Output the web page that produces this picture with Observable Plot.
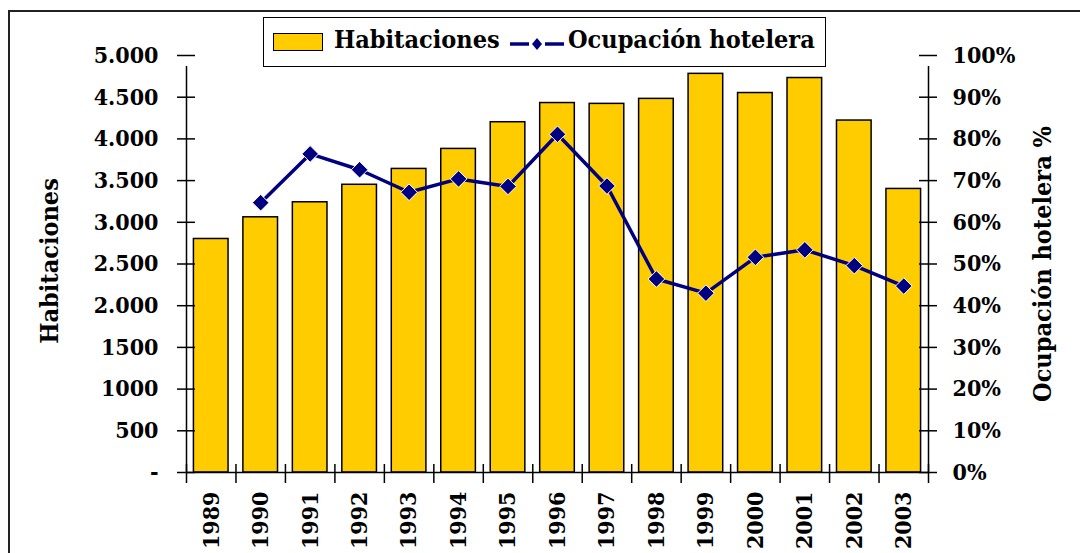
<!DOCTYPE html>
<html>
<head>
<meta charset="utf-8">
<script src="https://cdn.jsdelivr.net/npm/d3@7"></script>
<script src="https://cdn.jsdelivr.net/npm/@observablehq/plot@0.6"></script>
<style>
  body { margin: 0; background: #fff; }
  #wrap { position: relative; width: 1080px; height: 553px; overflow: hidden; background: #fff;
          font-family: "DejaVu Serif Condensed", "Liberation Serif", serif; font-weight: bold; color: #000; }
  #frame { position: absolute; left: 8px; top: 10px; width: 1200px; height: 700px;
           border-left: 2px solid #222; border-top: 2px solid #222; }
  #chart { position: absolute; left: 0; top: 0; }
  #legend { position: absolute; left: 263px; top: 17px; width: 563px; height: 50px; box-sizing: border-box;
            border: 1.5px solid #000; background: #fff; }
  #legend .sw { position: absolute; left: 9px; top: 15px; width: 50px; height: 18px; box-sizing: border-box;
                background: #FFCC00; border: 1.5px solid #000; }
  #legend .t { position: absolute; top: 6px; font-size: 25px; line-height: 32px; white-space: nowrap; }
  #legend svg { position: absolute; left: 245px; top: 16px; }
</style>
</head>
<body>
<div id="wrap">
  <div id="frame"></div>
  <div id="chart"></div>
  <div id="legend">
    <div class="sw"></div>
    <div class="t" style="left:70px">Habitaciones</div>
    <svg width="56" height="20"><line x1="1" y1="10" x2="20" y2="10" stroke="#000080" stroke-width="3.5"/><line x1="36" y1="10" x2="55" y2="10" stroke="#000080" stroke-width="3.5"/><path d="M28,4 L33,10 L28,16 L23,10 Z" fill="#000080"/></svg>
    <div class="t" style="left:304px">Ocupación hotelera</div>
  </div>
</div>
<script>
// ---- data ----
const years = [1989, 1990, 1991, 1992, 1993, 1994, 1995, 1996, 1997, 1998, 1999, 2000, 2001, 2002, 2003];
const habitaciones = [2800, 3060, 3240, 3450, 3640, 3880, 4200, 4430, 4420, 4480, 4780, 4550, 4730, 4220, 3400];
const ocupacion = [null, 64.7, 76.4, 72.6, 67.2, 70.4, 68.6, 81.1, 68.7, 46.4, 43.0, 51.6, 53.4, 49.6, 44.7];
const leftTicks = [0, 500, 1000, 1500, 2000, 2500, 3000, 3500, 4000, 4500, 5000];
const leftLabels = ["-", "500", "1000", "1500", "2.000", "2.500", "3.000", "3.500", "4.000", "4.500", "5.000"];
const rightTicks = [0, 10, 20, 30, 40, 50, 60, 70, 80, 90, 100];
const rightLabels = ["0%", "10%", "20%", "30%", "40%", "50%", "60%", "70%", "80%", "90%", "100%"];

// ---- layout ----
const W = 1080, H = 553, mL = 186, mR = 152, mT = 55, mB = 81;
const plotW = W - mL - mR, plotH = H - mT - mB;
const yMax = 5000, pctMax = 100, k = yMax / pctMax; // secondary axis mapping

const bars = years.map((year, i) => ({year, hab: habitaciones[i]}));
const line = years.map((year, i) => ({year, pct: ocupacion[i]})).filter(d => d.pct != null);
const bounds = [years[0] - 0.5, ...years.map(y => y + 0.5)];
const rightPos = rightTicks.map(p => p * k);
const font = '"DejaVu Serif Condensed", "Liberation Serif", serif';

const chart = Plot.plot({
  width: W, height: H,
  marginLeft: mL, marginRight: mR, marginTop: mT, marginBottom: mB,
  style: {fontFamily: font, fontWeight: "bold", fontSize: "23px", color: "#000", background: "transparent", overflow: "visible"},
  x: {domain: [years[0] - 0.5, years[years.length - 1] + 0.5]},
  y: {domain: [0, yMax]},
  marks: [
    Plot.rectY(bars, {x1: d => d.year - 0.35, x2: d => d.year + 0.35, y: "hab", fill: "#FFCC00", stroke: "#000", strokeWidth: 1.5}),
    Plot.ruleX([bounds[0], bounds[bounds.length - 1]], {y1: 0, y2: yMax, stroke: "#000", strokeWidth: 1.5, insetBottom: -11}),
    Plot.ruleY([0], {x1: bounds[0], x2: bounds[bounds.length - 1], stroke: "#000", strokeWidth: 1.5}),
    Plot.tickY(leftTicks, {y: d => d, insetLeft: -9, insetRight: plotW - 9, stroke: "#000", strokeWidth: 1.5}),
    Plot.tickY(rightPos, {y: d => d, insetLeft: plotW - 9, insetRight: -9, stroke: "#000", strokeWidth: 1.5}),
    Plot.tickX(bounds, {x: d => d, insetTop: plotH - 8, insetBottom: -11, stroke: "#000", strokeWidth: 1.5}),
    Plot.lineY(line, {x: "year", y: d => d.pct * k, stroke: "#000080", strokeWidth: 3.5}),
    Plot.dot(line, {x: "year", y: d => d.pct * k, symbol: "diamond2", r: 7.5, fill: "#000080", stroke: "#fff", strokeWidth: 1}),
    Plot.axisY(leftTicks, {anchor: "left", tickSize: 0, tickPadding: 28, tickFormat: d => leftLabels[leftTicks.indexOf(d)], label: null, fontSize: 23}),
    Plot.axisY(rightPos, {anchor: "right", tickSize: 0, tickPadding: 24, tickFormat: d => rightLabels[rightPos.indexOf(d)], label: null, fontSize: 23}),
    Plot.axisX(years, {anchor: "bottom", tickSize: 0, tickPadding: 19, tickRotate: -90, tickFormat: d => String(d), label: null, fontSize: 23}),
    Plot.text(["Habitaciones"], {text: d => d, frameAnchor: "left", textAnchor: "middle", dx: -137, dy: -3, rotate: -90, fontSize: 25, fontWeight: "bold"}),
    Plot.text(["Ocupación hotelera %"], {text: d => d, frameAnchor: "right", textAnchor: "middle", dx: 114, rotate: -90, fontSize: 25, fontWeight: "bold"})
  ]
});
document.getElementById("chart").appendChild(chart);
</script>
</body>
</html>
